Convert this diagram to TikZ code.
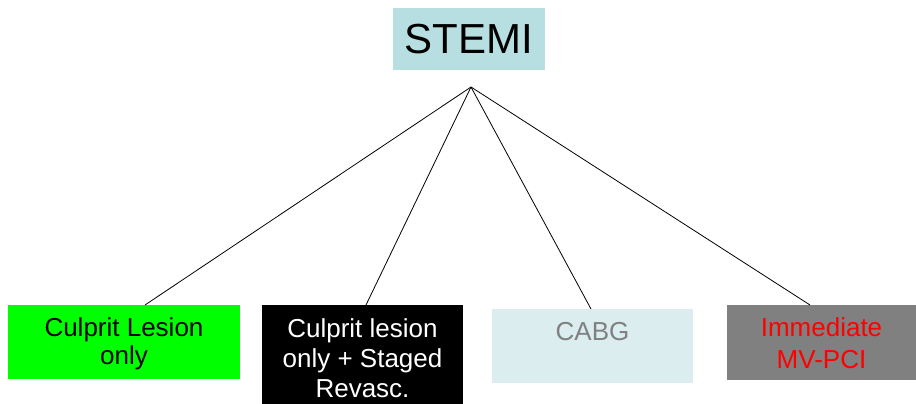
\documentclass[tikz,border=0pt]{standalone}
\usepackage{fontspec}
\setmainfont{Liberation Sans}
\definecolor{stemiblue}{HTML}{B7DFE1}
\definecolor{cabgfill}{HTML}{DBEDEF}
\definecolor{midgray}{HTML}{808080}
\definecolor{brightgreen}{HTML}{00FF00}
\newcommand\bxt[5]{\parbox[c][#2][t]{#1}{\centering\fontsize{26}{#4}\selectfont\rule{0pt}{#3}#5}}
\begin{document}
\begin{tikzpicture}[x=1pt,y=-1pt,
  boxnode/.style={draw=none, inner sep=0pt, outer sep=0pt, anchor=north west},
  link/.style={draw=black, line width=0.8pt}]
\useasboundingbox (0,0) rectangle (916,404);
\node[boxnode, fill=stemiblue, minimum width=152pt, minimum height=62pt,
  font=\fontsize{42}{48}\selectfont] (stemi) at (393,8) {STEMI};
\coordinate (apex) at (471,87);
\node[boxnode, fill=brightgreen, text=black] (green) at (8,305)
  {\bxt{232pt}{74pt}{31pt}{28.5pt}{Culprit Lesion\\only}};
\node[boxnode, fill=black, text=white] (black) at (262,305)
  {\bxt{201pt}{99pt}{32pt}{30pt}{Culprit lesion\\only + Staged\\Revasc.}};
\node[boxnode, fill=cabgfill, text=midgray] (cabg) at (492,309)
  {\bxt{201pt}{74pt}{31pt}{29pt}{CABG}};
\node[boxnode, fill=midgray, text=red] (mvpci) at (727,305)
  {\bxt{189pt}{75pt}{31pt}{32pt}{Immediate\\MV-PCI}};
\draw[link] (apex) -- ([xshift=21pt]green.north);
\draw[link] (apex) -- ([xshift=3.5pt]black.north);
\draw[link] (apex) -- ([xshift=-1.5pt]cabg.north);
\draw[link] (apex) -- ([xshift=-11.5pt]mvpci.north);
\end{tikzpicture}
\end{document}
